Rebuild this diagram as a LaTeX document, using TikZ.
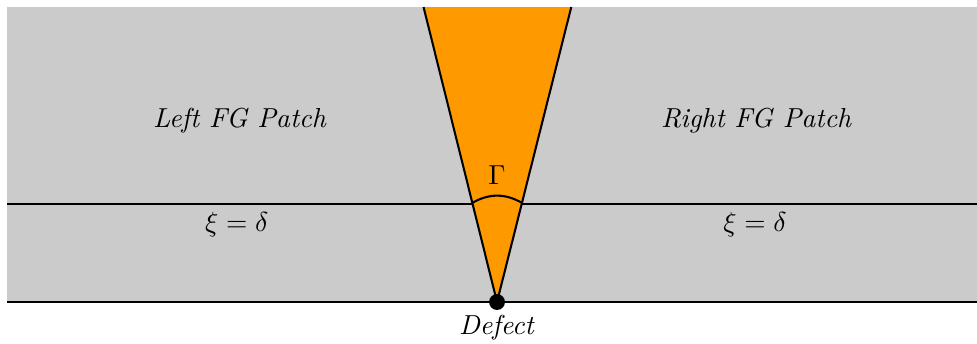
\documentclass[tikz,border=0pt]{standalone}
\usepackage{amsmath}
\usepackage{amssymb}
\usepackage{tikz}
\usepackage{xcolor}
\usetikzlibrary{calc}
\definecolor{wedgeorange}{RGB}{255,153,0}
\definecolor{patchgray}{RGB}{203,203,203}

\begin{document}
\begin{tikzpicture}[line width=0.75pt]
\useasboundingbox (-6.359,-0.525) rectangle (6.141,3.864);
\fill[patchgray] (-6.269,0) rectangle (6.141,3.774);
\draw (-6.269,0)--(6.141,0);
\draw (-6.269,1.254)--(6.141,1.254);
\coordinate (D) at (0,0);
\coordinate (TL) at (-0.94,3.774);
\coordinate (TR) at (0.95,3.774);
\fill[wedgeorange] (D)--(TL)--(TR)--cycle;
\draw (TL)--(D)--(TR);
\coordinate (AL) at ($(D)!0.336!(TL)$);
\coordinate (AR) at ($(D)!0.336!(TR)$);
\draw (AL) to[bend left=30] (AR);
\node (gamma) at (0,1.625) {$\Gamma$};
\node[circle,fill=black,inner sep=0pt,minimum size=5.8pt] (A1) at (D) {};
\node (defect) at (0,-0.333) {\textit{Defect}};
\node (leftpatch) at (-3.29,2.316) {\textit{Left FG Patch}};
\node (rightpatch) at (3.32,2.316) {\textit{Right FG Patch}};
\node (leftxi) at (-3.33,0.985) {$\xi=\delta$};
\node (rightxi) at (3.30,0.985) {$\xi=\delta$};
\end{tikzpicture}
\end{document}
